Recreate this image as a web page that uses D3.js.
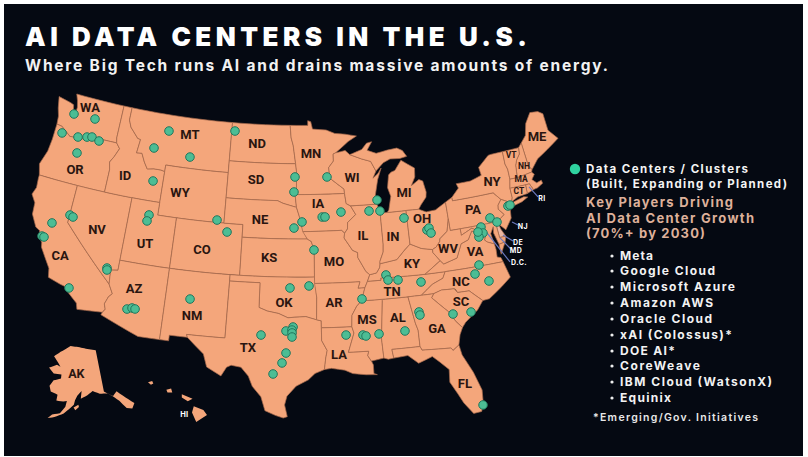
<!DOCTYPE html>
<html><head><meta charset="utf-8"><script src="https://d3js.org/d3.v7.min.js"></script>
<style>html,body{margin:0;background:#fff}svg{display:block}text{font-family:Inter,Roboto,sans-serif}</style></head>
<body><svg id="c" width="808" height="457"></svg>
<script>
const stateRings={
WA:[[-124.7,48.4],[-123.2,48.2],[-122.8,48.1],[-122.5,47.3],[-122.3,47.4],[-122.3,48.0],[-122.5,48.5],[-122.8,49],[-117.03,49],[-117.04,46.4],[-116.92,46],[-118.98,46],[-119.3,45.93],[-120.5,45.7],[-121.2,45.65],[-122.2,45.6],[-122.8,45.9],[-123.4,46.2],[-124,46.25],[-124.1,46.9],[-124.4,47.5]],
OR:[[-124,46.25],[-123.4,46.2],[-122.8,45.9],[-122.2,45.6],[-121.2,45.65],[-120.5,45.7],[-119.3,45.93],[-118.98,46],[-116.92,46],[-116.46,45.6],[-116.85,44.9],[-117.22,44.4],[-117.03,43.8],[-117.03,42],[-124.2,42],[-124.55,42.85],[-124.1,44],[-124,45]],
CA:[[-124.2,42],[-120,42],[-120,39],[-114.63,35],[-114.14,34.3],[-114.45,34],[-114.7,33.4],[-114.52,33],[-114.72,32.72],[-117.12,32.53],[-117.3,33],[-118.4,33.75],[-118.5,34.03],[-119.2,34.15],[-120.47,34.45],[-120.65,35.15],[-121.9,36.6],[-122,36.95],[-122.5,37.5],[-122.5,37.8],[-123,38],[-123.7,38.9],[-123.8,39.8],[-124.35,40.4],[-124.1,41],[-124.2,41.75]],
NV:[[-120,42],[-114.04,42],[-114.04,36.2],[-114.74,36.1],[-114.63,35],[-120,39]],
ID:[[-117.03,49],[-116.05,49],[-116.05,48],[-115.7,47.45],[-114.7,46.7],[-114.35,46.65],[-114.5,45.55],[-113.9,45.6],[-113.45,44.95],[-113,44.45],[-112.3,44.55],[-111.5,44.55],[-111.05,44.48],[-111.05,42],[-117.03,42],[-117.03,43.8],[-117.22,44.4],[-116.85,44.9],[-116.46,45.6],[-116.92,46],[-117.04,46.4]],
MT:[[-116.05,49],[-104.05,49],[-104.05,45],[-111.05,45],[-111.05,44.48],[-111.5,44.55],[-112.3,44.55],[-113,44.45],[-113.45,44.95],[-113.9,45.6],[-114.5,45.55],[-114.35,46.65],[-114.7,46.7],[-115.7,47.45],[-116.05,48]],
WY:[[-111.05,45],[-104.05,45],[-104.05,41],[-111.05,41]],
UT:[[-114.04,42],[-111.05,42],[-111.05,41],[-109.05,41],[-109.05,37],[-114.04,37]],
CO:[[-109.05,41],[-102.05,41],[-102.05,37],[-109.05,37]],
AZ:[[-114.04,37],[-109.05,37],[-109.05,31.33],[-111.07,31.33],[-114.81,32.5],[-114.72,32.72],[-114.52,33],[-114.7,33.4],[-114.45,34],[-114.14,34.3],[-114.63,35],[-114.74,36.1],[-114.04,36.2]],
NM:[[-109.05,37],[-103,37],[-103.04,32],[-106.62,32],[-106.53,31.78],[-108.21,31.78],[-108.21,31.33],[-109.05,31.33]],
ND:[[-104.05,49],[-97.23,49],[-97.1,48],[-96.85,47.4],[-96.56,45.94],[-104.05,45.94]],
SD:[[-104.05,45.94],[-96.56,45.94],[-96.45,45.3],[-96.45,43.5],[-96.6,43.5],[-96.44,42.49],[-97.9,42.8],[-98.5,43],[-104.05,43]],
NE:[[-104.05,43],[-98.5,43],[-97.9,42.8],[-96.44,42.49],[-96.1,41.7],[-95.9,41],[-95.31,40],[-102.05,40],[-102.05,41],[-104.05,41]],
KS:[[-102.05,40],[-95.31,40],[-94.9,39.8],[-94.6,39.1],[-94.62,37],[-102.05,37]],
OK:[[-103,37],[-94.62,37],[-94.43,35.4],[-94.48,33.64],[-95.5,33.9],[-96.6,33.85],[-97.2,33.8],[-98.1,34.13],[-99.2,34.3],[-100,34.56],[-100,36.5],[-103,36.5]],
TX:[[-103,36.5],[-100,36.5],[-100,34.56],[-99.2,34.3],[-98.1,34.13],[-97.2,33.8],[-96.6,33.85],[-95.5,33.9],[-94.48,33.64],[-94.04,33.55],[-94.04,33],[-94.04,32],[-93.55,31.2],[-93.7,30.6],[-93.84,29.7],[-94.7,29.4],[-95.3,28.9],[-96.4,28.4],[-97.2,27.6],[-97.4,26.9],[-97.15,25.96],[-97.5,25.85],[-98.2,26.05],[-99.1,26.4],[-99.5,27.5],[-100.3,28.3],[-100.7,29.1],[-101.4,29.77],[-102.3,29.88],[-102.7,29.7],[-103.15,28.98],[-104.5,29.6],[-104.9,30.6],[-106.53,31.78],[-106.62,32],[-103.04,32]],
MN:[[-97.23,49],[-95.15,49],[-95.15,49.38],[-94.8,49.3],[-94.6,48.7],[-93,48.6],[-92,48.3],[-90.8,48.2],[-89.5,48],[-90.5,47.6],[-92,46.75],[-92.29,46.66],[-92.29,46.1],[-92.85,45.6],[-92.75,44.75],[-91.25,43.85],[-91.22,43.5],[-96.45,43.5],[-96.45,45.3],[-96.56,45.94],[-96.85,47.4],[-97.1,48]],
IA:[[-96.45,43.5],[-91.22,43.5],[-91.1,42.7],[-90.65,42.5],[-90.15,41.8],[-91.05,41.2],[-91.1,40.7],[-91.42,40.38],[-91.73,40.61],[-95.77,40.58],[-95.9,41],[-96.1,41.7],[-96.44,42.49],[-96.6,43.5]],
MO:[[-95.77,40.58],[-91.73,40.61],[-91.42,40.38],[-91.5,40],[-90.7,39],[-90.2,38.8],[-90.2,38.4],[-89.5,37.3],[-89.13,37],[-89.4,36.5],[-89.7,36],[-90.37,36],[-90.15,36.5],[-94.62,36.5],[-94.62,37],[-94.6,39.1],[-94.9,39.8],[-95.31,40]],
AR:[[-94.62,36.5],[-90.15,36.5],[-90.37,36],[-89.7,36],[-90.1,35],[-90.6,34.6],[-91.1,33.9],[-91.17,33],[-94.04,33],[-94.04,33.55],[-94.48,33.64],[-94.43,35.4]],
LA:[[-94.04,33],[-91.17,33],[-91,32.5],[-91.6,31],[-89.73,31],[-89.85,30.65],[-89.55,30.2],[-89.4,29.9],[-89.4,29.2],[-89.1,29.1],[-90.1,29.15],[-91.3,29.3],[-92,29.6],[-93.2,29.78],[-93.84,29.7],[-93.7,30.6],[-93.55,31.2],[-94.04,32]],
MS:[[-90.1,35],[-88.2,35],[-88.1,34.9],[-88.47,31.9],[-88.4,30.37],[-89.55,30.2],[-89.85,30.65],[-89.73,31],[-91.6,31],[-91,32.5],[-91.17,33],[-91.1,33.9],[-90.6,34.6]],
AL:[[-88.2,35],[-85.6,35],[-85.18,32.87],[-85,32.3],[-85,31],[-87.6,31],[-87.5,30.3],[-88,30.25],[-88.4,30.37],[-88.47,31.9],[-88.1,34.9]],
TN:[[-90.1,35],[-89.7,36],[-89.4,36.5],[-88.07,36.5],[-88.07,36.68],[-83.68,36.6],[-81.68,36.59],[-82,36.1],[-83.1,35.75],[-84.3,35],[-85.6,35],[-88.2,35]],
KY:[[-89.13,37],[-89.4,36.5],[-88.07,36.5],[-88.07,36.68],[-83.68,36.6],[-82,37.5],[-82.6,38.2],[-82.6,38.45],[-83.7,38.65],[-84.8,39.1],[-85.4,38.7],[-86.3,38],[-87.6,37.85],[-88.03,37.8],[-88.1,37.5],[-88.45,37.1]],
IL:[[-90.65,42.5],[-87.8,42.5],[-87.55,41.7],[-87.53,39.3],[-87.6,38.7],[-88,38],[-88.03,37.8],[-88.1,37.5],[-88.45,37.1],[-89.13,37],[-89.5,37.3],[-90.2,38.4],[-90.2,38.8],[-90.7,39],[-91.5,40],[-91.42,40.38],[-91.1,40.7],[-91.05,41.2],[-90.15,41.8]],
IN:[[-87.55,41.7],[-87.2,41.76],[-86.8,41.76],[-84.8,41.76],[-84.8,39.1],[-85.4,38.7],[-86.3,38],[-87.6,37.85],[-88.03,37.8],[-88,38],[-87.6,38.7],[-87.53,39.3]],
WI:[[-92.29,46.66],[-92,46.75],[-90.9,46.9],[-90.4,46.55],[-89.1,46.15],[-88.1,45.9],[-87.6,45.1],[-88,44.55],[-87.4,44.9],[-87,45.3],[-87.5,44.4],[-87.9,43.2],[-87.8,42.5],[-90.65,42.5],[-91.1,42.7],[-91.22,43.5],[-91.25,43.85],[-92.75,44.75],[-92.85,45.6],[-92.29,46.1]],
MI:[[-86.8,41.76],[-84.8,41.76],[-83.45,41.73],[-83.15,42.05],[-82.5,42.6],[-82.4,43],[-82.6,43.9],[-83,44.05],[-83.9,43.65],[-83.4,44.3],[-83.3,45],[-84.7,45.75],[-85.5,45],[-85.95,44.9],[-86.25,44.7],[-86.5,43.7],[-86.25,43],[-86.6,41.95]],
MIU:[[-90.4,46.55],[-89,46.9],[-88.4,47.37],[-87.8,47.45],[-88.4,46.8],[-87.4,46.5],[-86.1,46.67],[-85,46.75],[-84.4,46.5],[-84,46],[-84.8,45.9],[-85.9,45.95],[-86.7,45.7],[-87.6,45.1],[-88.1,45.9],[-89.1,46.15]],
OH:[[-84.8,41.76],[-83.45,41.73],[-82.7,41.45],[-81.7,41.5],[-80.52,41.98],[-80.52,40.64],[-80.85,39.7],[-81.7,39.2],[-81.75,39],[-82.2,38.6],[-82.6,38.45],[-83.7,38.65],[-84.8,39.1]],
PA:[[-80.52,41.98],[-79.76,42.27],[-79.76,42],[-75.35,42],[-75.1,41.75],[-74.7,41.36],[-75.13,40.97],[-75.2,40.65],[-74.72,40.15],[-75.4,39.8],[-75.79,39.72],[-80.52,39.72],[-80.52,40.64]],
NY:[[-79.76,42.27],[-78.9,42.9],[-79.05,43.27],[-77.5,43.27],[-76.2,43.55],[-76.3,44.2],[-75,44.97],[-74.7,45],[-73.35,45],[-73.4,44],[-73.25,43.55],[-73.27,42.75],[-73.5,42.05],[-73.5,41.3],[-73.65,41],[-73.9,41],[-74.7,41.36],[-75.1,41.75],[-75.35,42],[-79.76,42]],
LI:[[-74,40.6],[-73.7,40.9],[-72.3,41.15],[-71.9,41.05],[-72.6,40.8],[-73.9,40.58]],
NJ:[[-74.7,41.36],[-73.9,41],[-74.25,40.5],[-74,40.4],[-74.1,39.75],[-74.9,38.95],[-75.5,39.5],[-75.4,39.8],[-74.72,40.15],[-75.2,40.65],[-75.13,40.97]],
DE:[[-75.4,39.8],[-75.79,39.72],[-75.7,38.46],[-75.05,38.46],[-75.4,39.1],[-75.5,39.5]],
MD:[[-79.48,39.72],[-75.79,39.72],[-75.7,38.46],[-75.05,38.46],[-75.25,38.03],[-75.9,37.95],[-76.2,38.9],[-76.1,39.4],[-76.5,38.9],[-76.35,38.05],[-77,38.3],[-77.25,38.5],[-77.05,38.85],[-77.5,39.1],[-77.72,39.32],[-78.3,39.6],[-79.48,39.2]],
VA:[[-83.68,36.6],[-81.68,36.59],[-75.87,36.55],[-76,36.9],[-76.35,37],[-76.3,37.6],[-76.35,38.05],[-77,38.3],[-77.25,38.5],[-77.05,38.85],[-77.5,39.1],[-77.72,39.32],[-77.83,39.13],[-78.35,39.4],[-78.87,38.76],[-79.65,38.55],[-80.3,37.5],[-81.7,37.2],[-82,37.5]],
VAE:[[-75.9,37.95],[-75.25,38.03],[-75.9,37.15]],
WV:[[-80.52,40.64],[-80.52,39.72],[-79.48,39.72],[-79.48,39.2],[-78.3,39.6],[-77.72,39.32],[-77.83,39.13],[-78.35,39.4],[-78.87,38.76],[-79.65,38.55],[-80.3,37.5],[-81.7,37.2],[-82,37.5],[-82.6,38.2],[-82.6,38.45],[-82.2,38.6],[-81.75,39],[-81.7,39.2],[-80.85,39.7]],
NC:[[-84.3,35],[-83.1,35.75],[-82,36.1],[-81.68,36.59],[-75.87,36.55],[-75.5,35.25],[-76.5,34.65],[-77.9,33.9],[-78.55,33.86],[-79.67,34.8],[-80.8,34.82],[-80.95,35.1],[-81.05,35.15],[-82.3,35.2],[-83.1,35]],
SC:[[-83.1,35],[-82.3,35.2],[-81.05,35.15],[-80.8,34.82],[-79.67,34.8],[-78.55,33.86],[-79.2,33.2],[-80.5,32.4],[-80.87,32.03],[-81.4,32.6],[-81.9,33.4],[-83.35,34.7]],
GA:[[-85.6,35],[-84.3,35],[-83.1,35],[-83.35,34.7],[-81.9,33.4],[-81.4,32.6],[-80.87,32.03],[-81.2,31.5],[-81.45,30.72],[-82.05,30.36],[-82.2,30.57],[-84.86,30.7],[-85,31],[-85,32.3],[-85.18,32.87]],
FL:[[-87.6,31],[-85,31],[-84.86,30.7],[-82.2,30.57],[-82.05,30.36],[-81.45,30.72],[-81.3,29.9],[-80.55,28.4],[-80.05,26.9],[-80.15,25.75],[-80.4,25.2],[-81.1,25.15],[-81.8,26.1],[-82.2,26.9],[-82.75,27.9],[-82.65,28.9],[-83.4,29.6],[-84,30.1],[-85.3,29.7],[-86.2,30.4],[-87.5,30.3]],
ME:[[-71.08,45.3],[-70.4,45.8],[-70,46.7],[-69.2,47.45],[-68.3,47.35],[-67.8,47.07],[-67.8,45.7],[-67,44.85],[-68.5,44.25],[-69.8,43.75],[-70.7,43.05],[-70.98,43.4]],
NH:[[-71.5,45],[-71.08,45.3],[-70.98,43.4],[-70.7,43.05],[-70.82,42.87],[-72.46,42.73],[-72.3,43.7],[-72.05,44.1],[-71.6,44.5]],
VT:[[-73.35,45],[-71.5,45],[-71.6,44.5],[-72.05,44.1],[-72.3,43.7],[-72.46,42.73],[-73.27,42.75],[-73.25,43.55],[-73.4,44]],
MA:[[-73.5,42.05],[-73.27,42.75],[-72.46,42.73],[-70.82,42.87],[-70.6,42.65],[-71,42.3],[-70.6,41.95],[-70.05,42.05],[-70,41.8],[-70.65,41.55],[-71.12,41.5],[-71.38,42.02],[-71.8,42.02]],
RI:[[-71.8,42.02],[-71.38,42.02],[-71.12,41.5],[-71.85,41.32]],
CT:[[-73.5,42.05],[-71.8,42.02],[-71.85,41.32],[-72.9,41.25],[-73.65,41],[-73.5,41.3]]
};
const akRing=[[-141,69.6],[-141,60.3],[-137.5,58.9],[-135.5,59.7],[-133.5,58.4],[-130,56],[-131.5,55],[-133.5,55.5],[-135.5,57.5],[-137,58.5],[-139.5,59.7],[-143,60],[-146,60.8],[-148.5,60],[-151.5,59.3],[-151,61],[-153,60],[-154,59],[-154.5,58],[-156.5,57],[-158.5,56],[-162,55],[-164.5,54.6],[-163,55.5],[-160,56],[-158,57.5],[-157.5,58.8],[-159,58.6],[-162,58.7],[-161.8,60],[-165,60.5],[-166,61.7],[-164.5,63],[-161,63.6],[-161,64.5],[-165,64.5],[-168,65.6],[-164,66.5],[-162,66.2],[-163.5,67],[-166.5,68.3],[-163,69.5],[-157,71],[-152,70.8],[-146,70.2]];
const kodiakRing=[[-154.6,57.4],[-152.6,58],[-152.4,57.5],[-153.9,56.8]];
const hiRings=[[[-155.9,20.2],[-155.1,19.9],[-154.8,19.5],[-155.7,18.95],[-156.05,19.7]],[[-156.9,21.15],[-156,20.8],[-156.4,20.6],[-156.9,20.9]],[[-158.2,21.5],[-157.8,21.6],[-157.7,21.3],[-158.1,21.3]],[[-159.75,22.1],[-159.4,22.2],[-159.3,22],[-159.5,21.9]]];

const dataCenterLon=[-122.46,-119.97,-123.16,-121.31,-120.33,-119.79,-118.91,-120.95,-111.31,-112.67,-108.50,-103.68,-112.14,-119.97,-119.62,-121.54,-122.15,-121.93,-111.95,-112.05,-104.80,-103.65,-115.14,-115.10,-118.31,-112.50,-112.05,-111.75,-106.68,-97.04,-95.17,-99.70,-97.37,-96.71,-96.81,-96.80,-96.80,-97.34,-97.69,-98.48,-90.05,-91.75,-90.17,-89.89,-88.67,-86.23,-84.72,-84.66,-81.55,-79.84,-77.61,-78.82,-78.27,-84.17,-87.53,-87.37,-86.39,-80.19,-96.62,-93.07,-96.72,-95.85,-96.69,-93.71,-93.41,-91.70,-94.63,-88.71,-87.55,-87.76,-85.10,-82.88,-82.65,-82.51,-76.24,-75.62,-74.14,-73.91,-77.34,-77.26,-77.74,-77.74];
const dataCenterLat=[47.40,47.45,45.69,45.72,45.90,46.00,45.83,44.48,47.71,46.18,45.90,48.34,43.59,39.61,39.52,38.65,37.45,37.42,40.90,40.41,41.19,40.32,36.20,36.05,34.03,33.32,33.47,33.43,34.80,36.15,36.31,32.39,32.76,33.08,32.84,32.61,32.29,31.02,30.23,29.34,35.14,32.37,32.30,32.21,32.30,32.35,33.72,33.47,33.20,33.13,35.28,36.02,36.66,36.04,36.88,36.47,36.40,25.70,44.89,44.86,43.70,41.34,40.86,41.71,41.71,42.05,39.13,42.00,41.93,42.81,41.19,40.03,40.16,39.75,40.12,39.69,40.73,40.77,39.56,39.07,38.82,39.22];
const stateNames=["WA","MT","ID","OR","WY","ND","SD","NE","CA","NV","UT","CO","KS","AZ","NM","OK","TX","MN","WI","IA","IL","MO","IN","OH","MI","KY","WV","VA","NC","PA","NY","TN","AR","LA","MS","AL","GA","SC","FL","ME","VT","NH","MA","CT"];
const stateLon=[-120.89,-108.85,-115.26,-120.70,-109.07,-101.03,-100.93,-100.29,-119.93,-116.94,-111.87,-106.05,-99.20,-112.19,-106.32,-97.60,-100.86,-94.81,-90.30,-94.12,-89.53,-92.63,-86.44,-83.22,-84.77,-84.83,-81.03,-78.40,-80.29,-77.79,-75.19,-87.08,-92.77,-92.47,-89.70,-86.75,-83.23,-80.60,-81.44,-69.16,-72.51,-71.44,-72.11,-72.64];
const stateLat=[48.28,47.72,43.65,43.22,43.06,47.50,44.64,41.50,36.38,39.04,38.68,38.81,38.55,35.05,33.57,35.04,31.40,46.79,44.77,42.82,40.15,38.23,39.88,41.02,43.23,37.61,38.39,37.80,35.67,41.07,42.93,35.58,35.01,30.90,33.54,33.50,32.29,34.12,27.66,45.50,44.58,43.49,42.55,41.68];
const calloutNames=["RI","NJ","DE","MD","D.C."];
const calloutFrom=[[-71.50,41.79],[-74.11,39.44],[-75.31,38.60],[-75.67,38.42],[-76.86,39.01]];
const calloutTo=[[-70.86,40.85],[-73.59,39.10],[-74.46,37.96],[-74.76,37.29],[-75.21,36.41]];
const calloutText=[[-70.49,40.69],[-73.12,38.93],[-73.99,37.80],[-74.39,37.15],[-74.37,36.18]];
const players=["Meta","Google Cloud","Microsoft Azure","Amazon AWS","Oracle Cloud","xAI (Colossus)*","DOE AI*","CoreWeave","IBM Cloud (WatsonX)","Equinix"];

const rewind=r=>{const ring=[...r,r[0]];const g={type:"Polygon",coordinates:[ring]};return d3.geoArea(g)>2*Math.PI?{type:"Polygon",coordinates:[ring.slice().reverse()]}:g};
const densify=r=>{const out=[];r.forEach((p,i)=>{const q=r[(i+1)%r.length];const n=Math.max(1,Math.ceil(Math.abs(q[0]-p[0])));for(let k=0;k<n;k++)out.push([p[0]+(q[0]-p[0])*k/n,p[1]+(q[1]-p[1])*k/n]);});return out};
const features=Object.entries(stateRings).map(([k,r])=>({type:"Feature",id:k,geometry:rewind(densify(r))}));
const all={type:"FeatureCollection",features};
const base=d3.geoAlbers().scale(1).translate([0,0]);
const [[bx0,by0],[bx1,by1]]=d3.geoPath(base).bounds(all);
const sx=d3.scaleLinear().domain([bx0,bx1]).range([32,558]);
const sy=d3.scaleLinear().domain([by0,by1]).range([94,418]);
const stretch=d3.geoTransform({point(x,y){this.stream.point(sx(x),sy(y))}});
const proj={stream:s=>base.stream(stretch.stream(s))};
const project=(lon,lat)=>{const p=base([lon,lat]);return [sx(p[0]),sy(p[1])]};
const path=d3.geoPath(proj);
const ak=d3.geoConicEqualArea().rotate([154,0]).center([-2,58.5]).parallels([55,65]);
const akF={type:"GeometryCollection",geometries:[rewind(densify(akRing))]};
ak.fitExtent([[47,346],[135,418]],akF);
const hi=d3.geoConicEqualArea().rotate([157,0]).center([-3,19.9]).parallels([8,18]);
const hiF={type:"GeometryCollection",geometries:hiRings.map(r=>rewind(r))};
hi.fitExtent([[148,380],[207,423]],hiF);

const svg=d3.select("#c");
svg.append("rect").attr("x",4).attr("y",4).attr("width",799).attr("height",452).attr("fill","#050912");
const land="#f4a67b",bord="#a5694c",ink="#2a1510",teal="#4cbd94",tealEdge="#22765c";
svg.append("g").selectAll("path").data(features).join("path").attr("d",path).attr("fill",d=>d.id==="DE"?"#ecb7a2":land).attr("stroke",bord).attr("stroke-width",.7);
svg.append("path").attr("d",d3.geoPath(ak)(akF)).attr("fill",land);
svg.append("path").attr("d",d3.geoPath(ak)(rewind(kodiakRing))).attr("fill",land);
svg.append("path").attr("d",d3.geoPath(hi)(hiF)).attr("fill",land);

svg.append("g").selectAll("line").data(calloutFrom).join("line")
 .attr("x1",d=>project(...d)[0]).attr("y1",d=>project(...d)[1])
 .attr("x2",(d,i)=>project(...calloutTo[i])[0]).attr("y2",(d,i)=>project(...calloutTo[i])[1])
 .attr("stroke","#6b78bd").attr("stroke-width",1.2);

svg.append("g").selectAll("circle").data(dataCenterLon).join("circle")
 .attr("cx",(d,i)=>project(d,dataCenterLat[i])[0]).attr("cy",(d,i)=>project(d,dataCenterLat[i])[1])
 .attr("r",4.3).attr("fill",teal).attr("stroke",tealEdge).attr("stroke-width",1);

const small=["VT","NH","MA","CT"];
svg.append("g").selectAll("text").data(stateNames).join("text")
 .attr("x",(d,i)=>project(stateLon[i],stateLat[i])[0]).attr("y",(d,i)=>project(stateLon[i],stateLat[i])[1]).attr("dy",".36em")
 .attr("text-anchor","middle").style("font-family","Roboto").attr("font-size",d=>small.includes(d)?8.5:13).attr("font-weight",700).attr("fill",ink).text(d=>d);
svg.append("g").selectAll("text").data(calloutNames).join("text")
 .attr("x",(d,i)=>project(...calloutText[i])[0]).attr("y",(d,i)=>project(...calloutText[i])[1]).attr("dy",".36em")
 .attr("text-anchor","middle").attr("font-size",7).attr("font-weight",700).attr("fill","#fff").attr("letter-spacing",.4).text(d=>d);
svg.append("text").attr("x",ak([-153.3,64.8])[0]).attr("y",ak([-153.3,64.8])[1]).attr("dy",".36em").attr("text-anchor","middle").style("font-family","Roboto").attr("font-size",12.5).attr("font-weight",700).attr("fill",ink).text("AK");
svg.append("text").attr("x",hi([-156.7,19.6])[0]).attr("y",hi([-156.7,19.6])[1]).attr("dy",".36em").attr("text-anchor","middle").attr("font-size",7.5).attr("font-weight",700).attr("fill","#fff").text("HI");

const put=(t,x,y,w,size,weight,fill)=>svg.append("text").attr("x",x).attr("y",y).attr("textLength",w).attr("lengthAdjust","spacing").attr("font-size",size).attr("font-weight",weight).attr("fill",fill).text(t);
put("AI DATA CENTERS IN THE U.S.",25,45.5,502,26,900,"#fff");
put("Where Big Tech runs AI and drains massive amounts of energy.",25,71,583,15.5,700,"#f2f2f2");
svg.append("circle").attr("cx",575).attr("cy",169).attr("r",5.2).attr("fill","#2fd3a0");
put("Data Centers / Clusters",586,173,162,11.5,700,"#f4f4f4");
put("(Built, Expanding or Planned)",586,188,201,11.5,700,"#f4f4f4");
const peach="#deb09a";
put("Key Players Driving",586,207,147,13,700,peach);
put("AI Data Center Growth",586,223,168,13,700,peach);
put("(70%+ by 2030)",586,238,119,13,700,peach);
const playerY=[260,275,291,307,323,339,355,370,386,402];
const playerW=[33,95,115,93,92,112,55,80,152,51];
const rows=svg.append("g").selectAll("g").data(players).join("g");
rows.append("circle").attr("cx",612).attr("cy",(d,i)=>playerY[i]-4).attr("r",1.6).attr("fill","#eee");
rows.append("text").attr("x",620).attr("y",(d,i)=>playerY[i]).attr("textLength",(d,i)=>playerW[i]).attr("lengthAdjust","spacing").attr("font-size",12).attr("font-weight",700).attr("fill","#f2f2f2").text(d=>d);
put("*Emerging/Gov. Initiatives",593,421,165,10.5,600,"#e8e8e8");
</script></body></html>
